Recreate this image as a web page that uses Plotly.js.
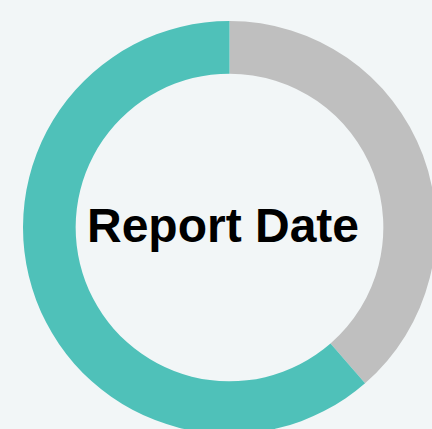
<!DOCTYPE html>
<html>
<head>
<meta charset="utf-8">
<script src="https://cdn.plot.ly/plotly-3.0.1.min.js"></script>
<style>
html,body{margin:0;padding:0;overflow:hidden;background:#f2f6f7;width:432px;height:429px;}
#chart{width:436px;height:434px;}
</style>
</head>
<body>
<div id="chart"></div>
<script>
const labels = ["Remaining", "Completed"];
const values = [38.6, 61.4];
const colors = ["#bfbfbf", "#4fc1b9"];
const centerText = "Report Date";

const data = [{
  type: "pie",
  labels: labels,
  values: values,
  hole: 0.745,
  sort: false,
  direction: "counterclockwise",
  rotation: 0,
  textinfo: "none",
  hoverinfo: "label+percent",
  marker: {colors: colors, line: {width: 0}}
}];

const layout = {
  width: 436,
  height: 434,
  margin: {l: 22.5, t: 20.5, r: 0, b: 0, pad: 0},
  paper_bgcolor: "#f2f6f7",
  plot_bgcolor: "#f2f6f7",
  showlegend: false,
  annotations: [{
    text: "<b>" + centerText + "</b>",
    x: 0.484, y: 0.5, xref: "paper", yref: "paper",
    xanchor: "center", yanchor: "middle",
    yshift: 2,
    showarrow: false,
    font: {family: "Arial, Liberation Sans, sans-serif", size: 48, color: "#000000"}
  }]
};

Plotly.newPlot("chart", data, layout, {displayModeBar: false, staticPlot: true});
</script>
</body>
</html>
